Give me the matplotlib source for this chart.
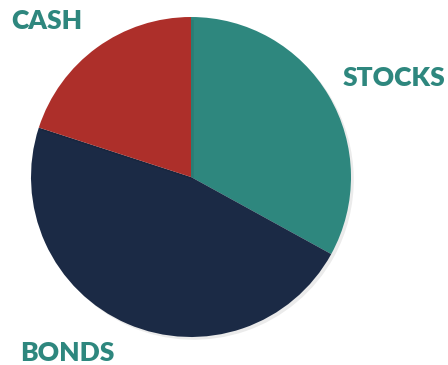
import matplotlib
matplotlib.use("Agg")
import matplotlib.pyplot as plt
import matplotlib.patheffects as pe

categories = ["STOCKS", "BONDS", "CASH"]
values = [33, 47, 20]
colors = ["#2E877E", "#1B2A45", "#AD2F2A"]
label_color = "#2E877E"

W, H = 448, 365
fig = plt.figure(figsize=(W / 100, H / 100), dpi=100)
ax = fig.add_axes([0, 0, 1, 1])

cx, cy, r = 191, H - 177, 160
wedges, _ = ax.pie(values, colors=colors, startangle=90, counterclock=False,
                   center=(cx, cy), radius=r, frame=True,
                   wedgeprops=dict(linewidth=0))
for w in wedges:
    w.set_path_effects([pe.SimplePatchShadow(offset=(2, -2), alpha=0.08, shadow_rgbFace="black"),
                        pe.Normal()])
ax.set_xlim(0, W)
ax.set_ylim(0, H)
ax.set_aspect("equal")
ax.axis("off")

label_pos = {"STOCKS": (394, H - 78), "BONDS": (67, H - 353), "CASH": (47, H - 21)}
for c in categories:
    x, y = label_pos[c]
    ax.text(x, y, c, ha="center", va="center", color=label_color,
            fontsize=19, fontweight="heavy", family="Lato")

fig.savefig("out.png", dpi=100)
